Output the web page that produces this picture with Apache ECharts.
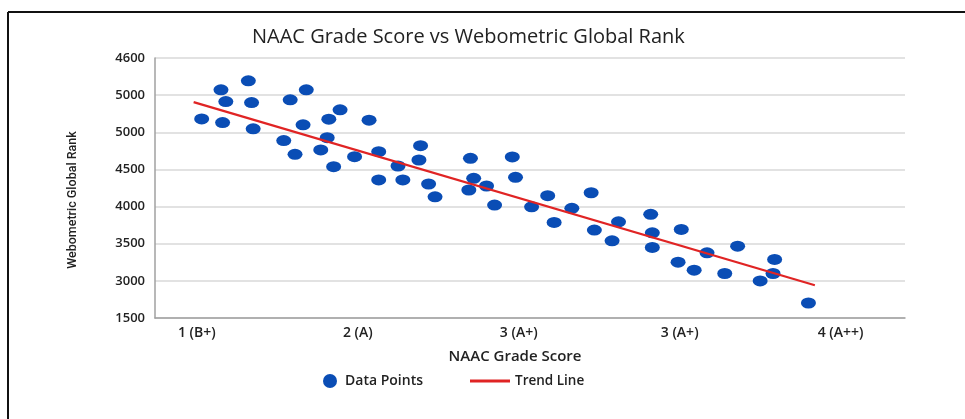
<!DOCTYPE html>
<html>
<head>
<meta charset="utf-8">
<script src="https://cdn.jsdelivr.net/npm/echarts@6/dist/echarts.min.js"></script>
<style>
html,body{margin:0;padding:0;background:#fff;}
#chart{width:965px;height:419px;}
</style>
</head>
<body>
<div id="chart"></div>
<script>
// Tick labels as printed in the reference
const xTickLabels = ['1 (B+)', '2 (A)', '3 (A+)', '3 (A+)', '4 (A++)'];
const yTickLabels = ['1500', '3000', '3500', '4000', '4500', '5000', '5000', '4600'];

// Data points (x = position on grade axis, y = rank on the drawn scale)
const gradeScores = [1.03,1.15,1.18,1.16,1.32,1.34,1.35,1.54,1.58,1.68,1.61,1.66,1.77,1.82,1.89,1.81,1.85,1.98,
  2.07,2.13,2.13,2.25,2.28,2.39,2.38,2.44,2.48,2.70,2.72,2.69,2.80,2.85,2.96,2.98,3.08,3.18,3.22,3.33,3.45,3.47,
  3.62,3.58,3.82,3.83,3.83,4.01,3.99,4.17,4.09,4.36,4.28,4.59,4.58,4.50,4.80];
const globalRanks = [5180,5572,5414,5131,5693,5400,5046,4888,5437,5572,4704,5100,4762,5176,5302,4928,4537,4672,
  5163,4739,4358,4546,4358,4820,4627,4304,4132,4650,4380,4223,4277,4020,4668,4394,3997,4146,3787,3976,4186,3683,
  3795,3539,3895,3647,3450,3693,3251,3377,3143,3467,3099,3288,3099,2999,2702];

// Trend line endpoints
const trendX = [0.98, 4.84];
const trendY = [5406, 2941];

const scatterData = gradeScores.map((x, i) => [x, globalRanks[i]]);
const trendData = trendX.map((x, i) => [x, trendY[i]]);

const chart = echarts.init(document.getElementById('chart'));
const font = '"Open Sans", "Noto Sans", sans-serif';
chart.setOption({
  backgroundColor: '#ffffff',
  animation: false,
  title: {
    text: 'NAAC Grade Score vs Webometric Global Rank',
    left: 247, top: 22,
    textStyle: { fontFamily: font, fontSize: 20, fontWeight: 'normal', color: '#222' }
  },
  legend: [
    {
      data: ['Data Points'], left: 323, top: 374, padding: 0, itemWidth: 20, itemHeight: 14,
      textStyle: { fontFamily: font, fontSize: 14, fontWeight: 600, color: '#222' }
    },
    {
      data: [{ name: 'Trend Line', icon: 'rect' }], left: 470, top: 374, padding: 0, itemWidth: 40, itemHeight: 3,
      textStyle: { fontFamily: font, fontSize: 13.5, fontWeight: 600, color: '#222' }
    }
  ],
  grid: { left: 155, right: 60, top: 58, bottom: 101, containLabel: false },
  xAxis: {
    type: 'value', min: 0.74, max: 5.40,
    name: 'NAAC Grade Score', nameLocation: 'middle', nameGap: 31,
    nameTextStyle: { fontFamily: font, fontSize: 15, fontWeight: 600, color: '#222', padding: [0, 30, 0, 0] },
    axisLine: { show: true, lineStyle: { color: '#a0a0a0', width: 1.5 } },
    axisTick: { show: false },
    splitLine: { show: false },
    axisLabel: {
      customValues: [1, 2, 3, 4, 5], margin: 8,
      fontFamily: font, fontSize: 14, fontWeight: 600, color: '#222',
      formatter: v => xTickLabels[Math.round(v) - 1]
    }
  },
  yAxis: {
    type: 'value', min: 2500, max: 6000, interval: 500,
    name: 'Webometric Global Rank', nameLocation: 'middle', nameGap: 76, nameRotate: 90,
    nameTextStyle: { fontFamily: 'Roboto, sans-serif', fontSize: 12.5, fontWeight: 500, color: '#222', padding: [0, 24, 0, 0] },
    axisLine: { show: true, lineStyle: { color: '#a0a0a0', width: 1.5 } },
    axisTick: { show: false },
    splitLine: { show: true, lineStyle: { color: '#d9d9d9', width: 1.5 } },
    axisLabel: {
      margin: 10, fontFamily: font, fontSize: 13, fontWeight: 600, color: '#222',
      formatter: v => yTickLabels[Math.round((v - 2500) / 500)]
    }
  },
  graphic: [
    { type: 'line', shape: { x1: 8, y1: 12, x2: 965, y2: 12 }, style: { stroke: '#111', lineWidth: 2 }, z: 100 },
    { type: 'line', shape: { x1: 8, y1: 12, x2: 8, y2: 419 }, style: { stroke: '#111', lineWidth: 2 }, z: 100 }
  ],
  series: [
    {
      name: 'Data Points', type: 'scatter', data: scatterData,
      symbol: 'circle', symbolSize: [15, 11],
      itemStyle: { color: '#0a4db5', opacity: 1 }, z: 3
    },
    {
      name: 'Trend Line', type: 'line', data: trendData,
      symbol: 'none', showSymbol: false,
      lineStyle: { color: '#e02424', width: 2.2 },
      itemStyle: { color: '#e02424' }, z: 4
    }
  ]
});
</script>
</body>
</html>
